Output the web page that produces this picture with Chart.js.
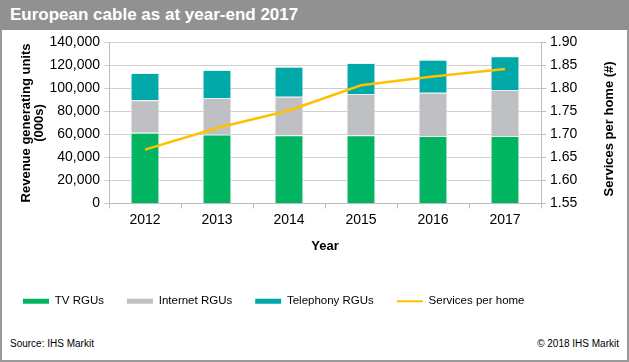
<!DOCTYPE html>
<html lang="en">
<head>
    <meta charset="UTF-8" />
    <title>European cable as at year-end 2017</title>
    <script src="https://cdn.jsdelivr.net/npm/chart.js"></script>
    <style>
        body { margin: 0; width: 629px; height: 362px; position: relative; font-family: "Liberation Sans", Arial, sans-serif; background: #fff; overflow: hidden; }
        #frame { position: absolute; left: 0; top: 0; width: 629px; height: 362px; box-sizing: border-box; border: 2px solid #9a9a9a; }
        #title { position: absolute; left: 0; top: 0; width: 629px; height: 30px; background: #919191; color: #fff; font-weight: bold; font-size: 17px; line-height: 30px; padding-left: 10px; box-sizing: border-box; }
        #chartBox { position: absolute; left: 0; top: 30px; width: 629px; height: 300px; }
        .note { position: absolute; top: 338px; font-size: 10px; color: #000; }
    </style>
</head>
<body>
    <div id="frame"></div>
    <div id="title">European cable as at year-end 2017</div>
    <div id="chartBox"><canvas id="cableChart" width="629" height="300"></canvas></div>
    <div class="note" style="left: 10px;">Source: IHS Markit</div>
    <div class="note" style="right: 10px;">© 2018 IHS Markit</div>
    <script>
        const years = ['2012', '2013', '2014', '2015', '2016', '2017'];
        const tvRgus = [61400, 59900, 59300, 59300, 58700, 58700];
        const internetRgus = [28400, 31700, 33400, 35800, 37600, 39900];
        const telephonyRgus = [23500, 24400, 26200, 27000, 28700, 29400];
        const servicesPerHome = [1.667, 1.714, 1.752, 1.807, 1.826, 1.842];

        const tickFont = { family: 'Liberation Sans', size: 14 };
        const titleFont = { family: 'Liberation Sans', size: 13, weight: 'bold', lineHeight: 1.0 };

        // right axis title reads bottom-to-top in the original, draw it ourselves
        const rightTitle = {
            id: 'rightTitle',
            afterDraw(chart) {
                const ctx = chart.ctx;
                const area = chart.chartArea;
                ctx.save();
                ctx.translate(609, (area.top + area.bottom) / 2 + 6);
                ctx.rotate(-Math.PI / 2);
                ctx.font = 'bold 13px "Liberation Sans"';
                ctx.fillStyle = '#000';
                ctx.textAlign = 'center';
                ctx.textBaseline = 'middle';
                ctx.fillText('Services per home (#)', 0, 0);
                ctx.restore();
            }
        };

        const ctx = document.getElementById('cableChart').getContext('2d');
        new Chart(ctx, {
            type: 'bar',
            data: {
                labels: years,
                datasets: [
                    {
                        type: 'line',
                        label: 'Services per home',
                        data: servicesPerHome,
                        yAxisID: 'y1',
                        borderColor: '#FFC000',
                        backgroundColor: '#FFC000',
                        borderWidth: 2.5,
                        pointRadius: 0,
                        tension: 0,
                        order: 0
                    },
                    { label: 'TV RGUs', data: tvRgus, backgroundColor: '#00B462', borderColor: '#e8f5ee', borderWidth: 1, order: 1 },
                    { label: 'Internet RGUs', data: internetRgus, backgroundColor: '#BFC0C3', borderColor: '#eeeeee', borderWidth: 1, order: 1 },
                    { label: 'Telephony RGUs', data: telephonyRgus, backgroundColor: '#00A8A8', borderColor: '#e6f5f5', borderWidth: 1, order: 1 }
                ]
            },
            options: {
                responsive: false,
                animation: false,
                layout: { padding: { top: 12, bottom: 13, left: 0, right: 0 } },
                datasets: { bar: { barPercentage: 0.4, categoryPercentage: 1 } },
                plugins: {
                    legend: {
                        position: 'bottom',
                        align: 'start',
                        labels: {
                            font: { family: 'Liberation Sans', size: 11.5 },
                            color: '#000',
                            padding: 23,
                            usePointStyle: true,
                            pointStyleWidth: 26,
                            boxHeight: 5,
                            sort: (a, b) => (a.datasetIndex === 0) - (b.datasetIndex === 0) || a.datasetIndex - b.datasetIndex,
                            generateLabels(chart) {
                                const items = Chart.defaults.plugins.legend.labels.generateLabels(chart);
                                items.forEach(item => {
                                    if (item.datasetIndex === 0) {
                                        item.pointStyle = 'line';
                                        item.lineWidth = 2;
                                        item.strokeStyle = '#FFC000';
                                    } else {
                                        item.pointStyle = 'rect';
                                        item.lineWidth = 0;
                                    }
                                });
                                return items;
                            }
                        }
                    },
                    tooltip: { enabled: false }
                },
                scales: {
                    x: {
                        stacked: true,
                        afterFit: scale => { scale.height = 69; },
                        grid: { drawOnChartArea: false, drawTicks: true, tickLength: 5, color: '#bdbdbd' },
                        border: { color: '#bdbdbd' },
                        ticks: { font: tickFont, color: '#000', padding: 3 },
                        title: { display: true, text: 'Year', font: titleFont, color: '#000', padding: { top: 0, bottom: 20 } }
                    },
                    y: {
                        stacked: true,
                        min: 0,
                        max: 140000,
                        afterFit: scale => { scale.width = 109; },
                        grid: { color: '#cfcfcf', drawTicks: true, tickLength: 5 },
                        border: { color: '#bdbdbd' },
                        ticks: {
                            stepSize: 20000,
                            font: tickFont,
                            color: '#000',
                            padding: 4,
                            callback: v => v.toLocaleString('en-US')
                        },
                        title: {
                            display: true,
                            text: ['Revenue generating units', '(000s)'],
                            font: titleFont,
                            color: '#000',
                            padding: { top: 20, bottom: 0 }
                        }
                    },
                    y1: {
                        position: 'right',
                        min: 1.55,
                        max: 1.90,
                        afterFit: scale => { scale.width = 88; },
                        grid: { drawOnChartArea: false, drawTicks: true, tickLength: 5, color: '#bdbdbd' },
                        border: { color: '#bdbdbd' },
                        ticks: {
                            stepSize: 0.05,
                            font: tickFont,
                            color: '#000',
                            padding: 4,
                            callback: v => v.toFixed(2)
                        }
                    }
                }
            },
            plugins: [rightTitle]
        });
    </script>
</body>
</html>
